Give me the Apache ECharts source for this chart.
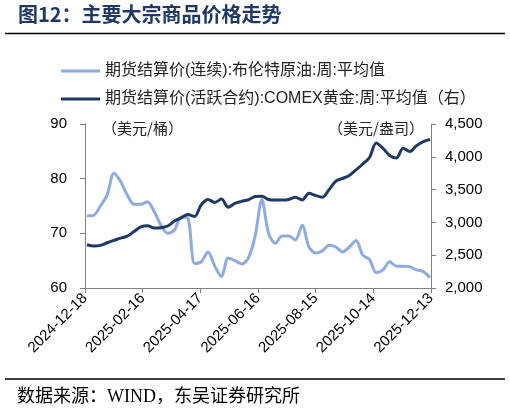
<!DOCTYPE html>
<html>
<head>
<meta charset="utf-8">
<script src="https://cdn.jsdelivr.net/npm/echarts@6/dist/echarts.min.js"></script>
<style>
html,body{margin:0;padding:0;background:#fff;}
#chart{width:510px;height:413px;}
</style>
</head>
<body>
<div id="chart"></div>
<script>
const dates = [
 '2024-12-20','2024-12-27','2025-01-03','2025-01-10','2025-01-17','2025-01-24','2025-01-31',
 '2025-02-07','2025-02-14','2025-02-21','2025-02-28','2025-03-07','2025-03-14','2025-03-21','2025-03-28',
 '2025-04-04','2025-04-11','2025-04-18','2025-04-25','2025-05-02','2025-05-09','2025-05-16','2025-05-23','2025-05-30',
 '2025-06-06','2025-06-13','2025-06-20','2025-06-27','2025-07-04','2025-07-11','2025-07-18','2025-07-25',
 '2025-08-01','2025-08-08','2025-08-15','2025-08-22','2025-08-29','2025-09-05','2025-09-12','2025-09-19','2025-09-26',
 '2025-10-03','2025-10-10','2025-10-17','2025-10-24','2025-10-31','2025-11-07','2025-11-14','2025-11-21','2025-11-28',
 '2025-12-05','2025-12-12'
];
const brent = [
 73.2,73.3,75.0,77.0,81.0,79.5,77.0,
 75.3,75.3,75.8,74.0,71.5,70.0,70.6,73.0,
 72.8,64.5,64.8,66.6,64.0,62.1,65.5,65.0,64.4,
 65.5,69.5,76.2,70.0,68.2,69.5,69.5,68.8,
 71.5,67.5,66.4,66.8,67.8,67.5,66.6,67.5,68.7,
 66.0,65.2,62.8,63.3,64.8,64.0,64.0,63.9,63.3,
 63.0,61.9
];
const gold = [
 2660,2640,2650,2690,2725,2760,2790,
 2860,2930,2948,2915,2920,2945,3020,3070,
 3120,3090,3270,3350,3305,3355,3230,3290,3320,
 3345,3395,3400,3350,3340,3340,3350,3383,
 3341,3445,3410,3385,3500,3630,3670,3715,3800,
 3890,3990,4210,4130,4020,3980,4130,4080,4170,
 4230,4265
];
const axisStart = '2024-12-18';
const leftTicks = {min:60, max:90, step:10};
const rightTicks = {min:2000, max:4500, step:500};
const xSpanDays = 360, xStepDays = 60;

const DAY = 86400000;
const base = Date.parse(axisStart + 'T00:00:00Z');
const toDay = d => Math.round((Date.parse(d + 'T00:00:00Z') - base) / DAY);
const fmtDate = v => new Date(base + v * DAY).toISOString().slice(0, 10);

const names = ['期货结算价(连续):布伦特原油:周:平均值', '期货结算价(活跃合约):COMEX黄金:周:平均值（右）'];
const colors = ['#8FAADC', '#1F3864'];
const cjk = "'Liberation Sans','Noto Sans CJK SC',sans-serif";
const axisLineStyle = {color:'#808080', width:1};

const chart = echarts.init(document.getElementById('chart'), null, {renderer:'canvas'});
chart.setOption({
  animation:false,
  backgroundColor:'#fff',
  grid:{left:85, right:79, top:124, bottom:125, containLabel:false},
  legend:{
    orient:'vertical', left:56, top:57, itemWidth:39, itemHeight:3, itemGap:10,
    icon:'rect',
    textStyle:{fontSize:16, color:'#222', fontFamily:cjk, lineHeight:18, padding:[0,0,0,0]},
    data:names
  },
  xAxis:{
    type:'value', min:0, max:xSpanDays, interval:xStepDays,
    axisLine:{lineStyle:axisLineStyle},
    axisTick:{show:true, length:5, lineStyle:axisLineStyle},
    splitLine:{show:false},
    axisLabel:{rotate:45, fontSize:15, color:'#000', fontFamily:'Liberation Sans', margin:8, formatter:fmtDate}
  },
  yAxis:[
    {type:'value', min:leftTicks.min, max:leftTicks.max, interval:leftTicks.step, position:'left',
     axisLine:{show:true, lineStyle:axisLineStyle},
     axisTick:{show:true, length:5, lineStyle:axisLineStyle},
     splitLine:{show:false},
     axisLabel:{fontSize:15, color:'#000', fontFamily:'Liberation Sans', margin:18}},
    {type:'value', min:rightTicks.min, max:rightTicks.max, interval:rightTicks.step, position:'right',
     axisLine:{show:true, lineStyle:axisLineStyle},
     axisTick:{show:true, length:5, lineStyle:axisLineStyle},
     splitLine:{show:false},
     axisLabel:{fontSize:15, color:'#000', fontFamily:'Liberation Sans', margin:14,
       formatter:v => v.toLocaleString('en-US')}}
  ],
  series:[
    {name:names[0], type:'line', yAxisIndex:0, smooth:0.3, symbol:'none',
     lineStyle:{width:3, color:colors[0]}, itemStyle:{color:colors[0]},
     data:dates.map((d,i)=>[toDay(d), brent[i]])},
    {name:names[1], type:'line', yAxisIndex:1, smooth:0.3, symbol:'none',
     lineStyle:{width:3, color:colors[1]}, itemStyle:{color:colors[1]},
     data:dates.map((d,i)=>[toDay(d), gold[i]])}
  ],
  graphic:[
    {type:'text', left:18, top:4, style:{text:'图12：主要大宗商品价格走势',
      fill:'#1F3864', font:"bold 20px 'Noto Sans CJK SC', sans-serif"}},
    {type:'line', shape:{x1:5, y1:33.5, x2:505, y2:33.5}, style:{stroke:'#000', lineWidth:1.5}},
    {type:'text', left:102, top:121, style:{text:'（美元/桶）', font:"15px 'Noto Sans CJK SC', sans-serif", fill:'#222'}},
    {type:'text', left:328, top:121, style:{text:'（美元/盎司）', font:"15px 'Noto Sans CJK SC', sans-serif", fill:'#222'}},
    {type:'line', shape:{x1:5, y1:379, x2:505, y2:379}, style:{stroke:'#000', lineWidth:1.5}},
    {type:'text', left:17, top:388, style:{text:'数据来源：WIND，东吴证券研究所', font:"18px 'Liberation Serif','Noto Sans CJK SC', serif", fill:'#000'}}
  ]
});
</script>
</body>
</html>
